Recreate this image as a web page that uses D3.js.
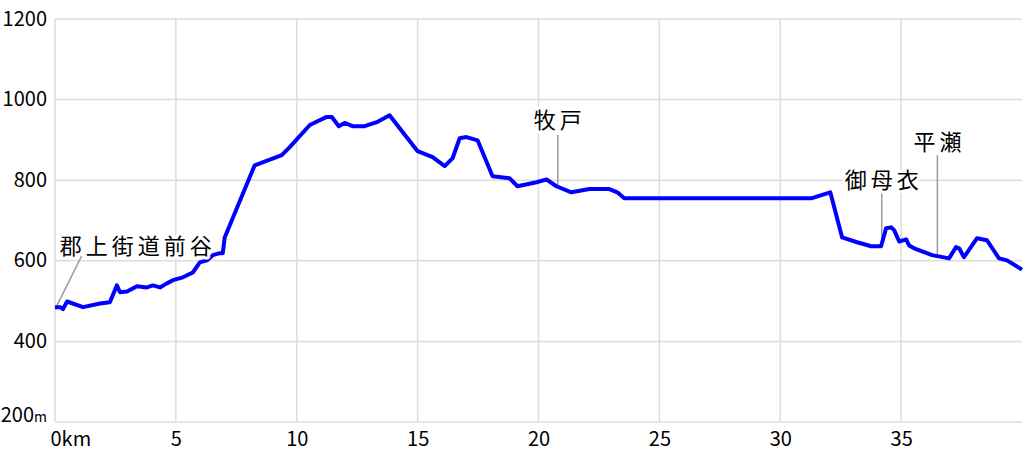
<!DOCTYPE html>
<html>
<head>
<meta charset="utf-8">
<script src="https://cdn.jsdelivr.net/npm/d3@7"></script>
<style>
  body { margin: 0; background: #fff; }
  svg { display: block; }
  .tick text { font-family: "Noto Sans CJK JP", sans-serif; font-size: 20px; fill: #000; }
  .place { font-family: "Noto Sans CJK JP", sans-serif; font-size: 22px; letter-spacing: 4px; fill: #000;
           paint-order: stroke; stroke: #fff; stroke-width: 6px; stroke-linejoin: round; }
</style>
</head>
<body>
<div id="chart"></div>
<script>
// distance along the route (km) and elevation (m)
const distKm = [0, 0.21, 0.33, 0.5, 1.16, 1.86, 2.27, 2.56, 2.69, 2.98, 3.39, 3.8, 4.05, 4.34, 4.63,
  4.88, 5.29, 5.7, 5.99, 6.28, 6.53, 6.82, 6.94, 7.02, 8.26, 9.38, 9.71, 10.54, 11.24, 11.45,
  11.74, 11.98, 12.31, 12.81, 13.31, 13.84, 15.0, 15.62, 16.12, 16.45, 16.74, 17.02, 17.48,
  18.1, 18.8, 19.13, 19.92, 20.33, 20.74, 21.36, 22.11, 22.93, 23.26, 23.55, 31.28, 32.07,
  32.56, 33.18, 33.76, 34.17, 34.38, 34.59, 34.71, 34.92, 35.21, 35.33, 35.54, 36.28, 36.98,
  37.27, 37.4, 37.6, 38.14, 38.55, 39.05, 39.38, 40];
const elevM = [485, 485, 480, 499, 485, 494, 497, 539, 522, 524, 537, 534, 539, 534, 544,
  552, 559, 571, 596, 601, 614, 619, 619, 658, 837, 862, 882, 937, 957, 957,
  934, 942, 934, 934, 944, 961, 872, 857, 835, 855, 904, 907, 899,
  810, 805, 785, 795, 802, 785, 770, 778, 778, 770, 755, 755, 770,
  658, 646, 636, 636, 681, 683, 676, 648, 653, 638, 631, 614, 606,
  634, 631, 609, 656, 651, 606, 601, 578];

// place names: km on route, label baseline (m), leader top (m)
const placeNames = ["郡上街道前谷", "牧戸", "御母衣", "平瀬"];
const placeKm = [0.05, 20.8, 34.2, 36.5];
const placeLabelM = [616, 930, 780, 875];
const placeLineTopM = [612, 912, 768, 862];

const xTicks = [0, 5, 10, 15, 20, 25, 30, 35];
const yTicks = [200, 400, 600, 800, 1000, 1200];

const width = 1024, height = 455;
const margin = {top: 19, right: 2, bottom: 33, left: 55};
const w = width - margin.left - margin.right;
const h = height - margin.top - margin.bottom;

const svg = d3.select("#chart").append("svg")
  .attr("width", width)
  .attr("height", height);

const x = d3.scaleLinear().domain([0, 40]).range([0, w]);
const y = d3.scaleLinear().domain([200, 1200]).range([h, 0]);

const main = svg.append("g")
  .attr("transform", "translate(" + margin.left + "," + margin.top + ")");

// grid
main.append("g")
  .selectAll("line")
  .data(xTicks)
  .join("line")
  .attr("x1", d => x(d)).attr("x2", d => x(d))
  .attr("y1", 0).attr("y2", h)
  .attr("stroke", "#dcdcdc").attr("stroke-width", 1.5);

main.append("g")
  .selectAll("line")
  .data(yTicks)
  .join("line")
  .attr("x1", 0).attr("x2", w)
  .attr("y1", d => y(d)).attr("y2", d => y(d))
  .attr("stroke", "#dcdcdc").attr("stroke-width", 1.5);

// y axis labels
const yAxis = d3.axisLeft(y).tickValues(yTicks).tickSize(0).tickPadding(8)
  .tickFormat(d3.format("d"));
const gy = main.append("g").call(yAxis);
gy.select(".domain").remove();
gy.selectAll(".tick text").attr("dy", d => d === 200 ? "-0.05em" : "0.3em");
gy.selectAll(".tick text").filter(d => d === 200)
  .append("tspan").attr("font-size", "14px").text("m");

// x axis labels
const xAxis = d3.axisBottom(x).tickValues(xTicks).tickSize(0).tickPadding(10)
  .tickFormat(d3.format("d"));
const gx = main.append("g").attr("transform", "translate(0," + h + ")").call(xAxis);
gx.select(".domain").remove();
gx.selectAll(".tick text").filter(d => d === 0)
  .attr("text-anchor", "start").attr("x", -5)
  .append("tspan").text("km");

// leader lines
const leaders = main.append("g");
leaders.append("line")
  .attr("x1", x(1.1)).attr("y1", y(placeLineTopM[0]))
  .attr("x2", x(placeKm[0])).attr("y2", y(485))
  .attr("stroke", "#999").attr("stroke-width", 1.5);
[1, 2, 3].forEach(i => {
  const ix = d3.bisectLeft(distKm, placeKm[i]);
  const t = (placeKm[i] - distKm[ix - 1]) / (distKm[ix] - distKm[ix - 1]);
  const e = elevM[ix - 1] + t * (elevM[ix] - elevM[ix - 1]);
  leaders.append("line")
    .attr("x1", x(placeKm[i])).attr("x2", x(placeKm[i]))
    .attr("y1", y(placeLineTopM[i])).attr("y2", y(e))
    .attr("stroke", "#999").attr("stroke-width", 1.5);
});

// profile line
const line = d3.line().x((d, i) => x(distKm[i])).y(d => y(d));
main.append("path")
  .datum(elevM)
  .attr("d", line)
  .attr("fill", "none")
  .attr("stroke", "#0000ff")
  .attr("stroke-width", 4)
  .attr("stroke-linejoin", "round");

// place labels
main.append("g")
  .selectAll("text")
  .data(placeNames)
  .join("text")
  .attr("class", "place")
  .attr("x", (d, i) => i === 0 ? x(0.2) : x(placeKm[i]) + 2)
  .attr("y", (d, i) => y(placeLabelM[i]))
  .attr("text-anchor", (d, i) => i === 0 ? "start" : "middle")
  .text(d => d);
</script>
</body>
</html>
